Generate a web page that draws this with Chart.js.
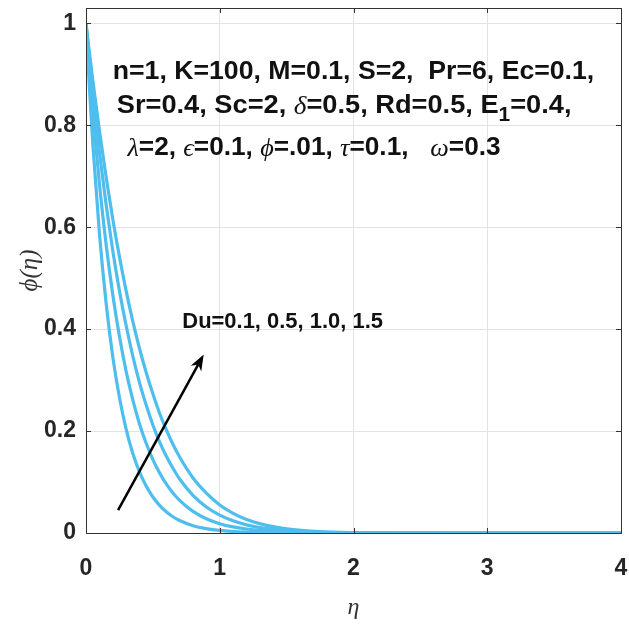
<!DOCTYPE html>
<html>
<head>
<meta charset="utf-8">
<script src="https://cdn.jsdelivr.net/npm/chart.js@4.4.1/dist/chart.umd.min.js"></script>
<style>
  html, body { margin: 0; padding: 0; background: #ffffff; }
  #wrap { width: 629px; height: 627px; }
</style>
</head>
<body>
<div id="wrap"><canvas id="c" width="629" height="627"></canvas></div>
<script>
// ---- data ----
const eta = [0, 0.025, 0.05, 0.1, 0.15, 0.2, 0.25, 0.3, 0.35, 0.4, 0.45, 0.5, 0.55, 0.6, 0.65, 0.7, 0.8, 0.9, 1.0, 1.1, 1.2, 1.35, 1.5, 1.75, 2, 2.5, 3, 4];
const phiDu01 = [1, 0.876, 0.767, 0.589, 0.452, 0.346, 0.266, 0.204, 0.156, 0.120, 0.092, 0.0707, 0.0542, 0.0416, 0.0319, 0.0245, 0.0144, 0.0085, 0.005, 0.0029, 0.0017, 0.0008, 0.0004, 0.0001, 0, 0, 0, 0];
const phiDu05 = [1, 0.910, 0.829, 0.686, 0.567, 0.468, 0.386, 0.317, 0.261, 0.214, 0.176, 0.144, 0.118, 0.0963, 0.0786, 0.0641, 0.0424, 0.0279, 0.0183, 0.0119, 0.0078, 0.004, 0.0021, 0.0007, 0.0002, 0, 0, 0];
const phiDu10 = [1, 0.931, 0.866, 0.748, 0.645, 0.554, 0.475, 0.407, 0.347, 0.295, 0.251, 0.212, 0.179, 0.151, 0.127, 0.106, 0.074, 0.051, 0.035, 0.0238, 0.0159, 0.0086, 0.0045, 0.0015, 0.0005, 0, 0, 0];
const phiDu15 = [1, 0.944, 0.890, 0.790, 0.699, 0.616, 0.542, 0.475, 0.415, 0.362, 0.315, 0.273, 0.235, 0.203, 0.174, 0.149, 0.108, 0.078, 0.055, 0.0386, 0.0267, 0.015, 0.0082, 0.0028, 0.0009, 0.0001, 0, 0];
const seriesLabels = ['Du=0.1', 'Du=0.5', 'Du=1.0', 'Du=1.5'];
const xTicks = [0, 1, 2, 3, 4];
const yTicks = [0, 0.2, 0.4, 0.6, 0.8, 1];

const series = [phiDu01, phiDu05, phiDu10, phiDu15];
const lineColor = '#4DBEEE';
const datasets = series.map((s, i) => ({
  label: seriesLabels[i],
  data: eta.map((x, j) => ({ x: x, y: s[j] })),
  showLine: true,
  borderColor: lineColor,
  borderWidth: 3.2,
  pointRadius: 0,
  fill: false,
  cubicInterpolationMode: 'monotone'
}));

const sans = '"Liberation Sans", Arial, sans-serif';
const serif = '"Liberation Serif", "Times New Roman", serif';

// annotation text lines: segments [text, kind] ; kind: 'b' bold sans, 'g' italic serif greek, 's' subscript
const annotLines = [
  { x: 0.2, y: 0.905, w: 3.6, size: 26, segs: [['n=1, K=100, M=0.1, S=2,  Pr=6, Ec=0.1,', 'b']] },
  { x: 0.23, y: 0.838, w: 3.4, size: 26, segs: [['Sr=0.4, Sc=2, ', 'b'], ['δ', 'g'], ['=0.5, Rd=0.5, E', 'b'], ['1', 's'], ['=0.4,', 'b']] },
  { x: 0.31, y: 0.755, w: 2.79, size: 26, segs: [['λ', 'g'], ['=2, ', 'b'], ['ϵ', 'g'], ['=0.1, ', 'b'], ['ϕ', 'g'], ['=.01, ', 'b'], ['τ', 'g'], ['=0.1,   ', 'b'], ['ω', 'g'], ['=0.3', 'b']] },
  { x: 0.72, y: 0.415, w: 1.5, size: 22, segs: [['Du=0.1, 0.5, 1.0, 1.5', 'b']] }
];
const arrowFrom = { x: 0.24, y: 0.045 };
const arrowTo = { x: 0.88, y: 0.35 };

function segFont(kind, size) {
  if (kind === 'g') return 'italic ' + size + 'px ' + serif;
  if (kind === 's') return 'bold ' + Math.round(size * 0.75) + 'px ' + sans;
  return 'bold ' + size + 'px ' + sans;
}

const annotPlugin = {
  id: 'annot',
  afterDatasetsDraw(chart) {
    const ctx = chart.ctx;
    const xs = chart.scales.x, ys = chart.scales.y;
    ctx.save();
    // arrow
    const x1 = xs.getPixelForValue(arrowFrom.x), y1 = ys.getPixelForValue(arrowFrom.y);
    const x2 = xs.getPixelForValue(arrowTo.x), y2 = ys.getPixelForValue(arrowTo.y);
    const ang = Math.atan2(y2 - y1, x2 - x1);
    const hl = 16, hw = 6;
    ctx.strokeStyle = '#000';
    ctx.fillStyle = '#000';
    ctx.lineWidth = 2.5;
    ctx.beginPath();
    ctx.moveTo(x1, y1);
    ctx.lineTo(x2 - Math.cos(ang) * hl * 0.7, y2 - Math.sin(ang) * hl * 0.7);
    ctx.stroke();
    ctx.beginPath();
    ctx.moveTo(x2, y2);
    ctx.lineTo(x2 - Math.cos(ang) * hl - Math.sin(ang) * hw, y2 - Math.sin(ang) * hl + Math.cos(ang) * hw);
    ctx.lineTo(x2 - Math.cos(ang) * hl * 0.7, y2 - Math.sin(ang) * hl * 0.7);
    ctx.lineTo(x2 - Math.cos(ang) * hl + Math.sin(ang) * hw, y2 - Math.sin(ang) * hl - Math.cos(ang) * hw);
    ctx.closePath();
    ctx.fill();

    // text lines
    ctx.fillStyle = '#111';
    ctx.textBaseline = 'middle';
    ctx.textAlign = 'left';
    annotLines.forEach(line => {
      let natural = 0;
      line.segs.forEach(([t, k]) => { ctx.font = segFont(k, line.size); natural += ctx.measureText(t).width; });
      const px = xs.getPixelForValue(line.x), py = ys.getPixelForValue(line.y);
      const target = xs.getPixelForValue(line.x + line.w) - px;
      const sx = target / natural;
      ctx.save();
      ctx.translate(px, py);
      ctx.scale(sx, 1);
      let cx = 0;
      line.segs.forEach(([t, k]) => {
        ctx.font = segFont(k, line.size);
        const dy = k === 's' ? line.size * 0.38 : (k === 'g' ? 1 : 0);
        ctx.fillText(t, cx, dy);
        cx += ctx.measureText(t).width;
      });
      ctx.restore();
    });
    ctx.restore();
  },
  afterDraw(chart) {
    const ctx = chart.ctx;
    const a = chart.chartArea;
    const xs = chart.scales.x, ys = chart.scales.y;
    ctx.save();
    ctx.strokeStyle = '#333';
    ctx.lineWidth = 1;
    ctx.strokeRect(Math.round(a.left) + 0.5, Math.round(a.top) + 0.5, Math.round(a.right - a.left), Math.round(a.bottom - a.top));
    // inward ticks
    const tl = 5;
    ctx.beginPath();
    xTicks.forEach(v => {
      const p = Math.round(xs.getPixelForValue(v)) + 0.5;
      ctx.moveTo(p, a.bottom); ctx.lineTo(p, a.bottom - tl);
      ctx.moveTo(p, a.top); ctx.lineTo(p, a.top + tl);
    });
    yTicks.forEach(v => {
      const p = Math.round(ys.getPixelForValue(v)) + 0.5;
      ctx.moveTo(a.left, p); ctx.lineTo(a.left + tl, p);
      ctx.moveTo(a.right, p); ctx.lineTo(a.right - tl, p);
    });
    ctx.stroke();
    ctx.restore();
  }
};

new Chart(document.getElementById('c'), {
  type: 'scatter',
  data: { datasets },
  options: {
    responsive: false,
    animation: false,
    devicePixelRatio: 1,
    layout: { padding: { left: 0, right: 8, top: 8, bottom: 0 } },
    plugins: { legend: { display: false }, tooltip: { enabled: false } },
    scales: {
      x: {
        type: 'linear',
        min: 0, max: 4,
        afterBuildTicks: s => { s.ticks = xTicks.map(v => ({ value: v })); },
        afterFit: s => { s.height = 94; s.paddingLeft = 0; s.paddingRight = 0; },
        grid: { color: '#e3e3e3', lineWidth: 1, drawTicks: false },
        border: { display: false },
        ticks: { padding: 22, color: '#262626', font: { family: sans, size: 23, weight: 'bold' }, maxRotation: 0, callback: v => String(v) },
        title: { display: true, text: 'η', color: '#333', font: { family: serif, size: 24, style: 'italic' }, padding: { top: 0, bottom: 5 } }
      },
      y: {
        type: 'linear',
        min: 0, max: 1.03,
        afterBuildTicks: s => { s.ticks = yTicks.map(v => ({ value: v })); },
        afterFit: s => { s.width = 86; s.paddingTop = 0; s.paddingBottom = 0; },
        grid: { color: '#e3e3e3', lineWidth: 1, drawTicks: false },
        border: { display: false },
        ticks: { padding: 10, color: '#262626', font: { family: sans, size: 23, weight: 'bold' }, callback: v => String(v) },
        title: { display: true, text: 'ϕ(η)', color: '#333', font: { family: serif, size: 25, style: 'italic' }, padding: { top: 15, bottom: 0 } }
      }
    }
  },
  plugins: [annotPlugin]
});
</script>
</body>
</html>
